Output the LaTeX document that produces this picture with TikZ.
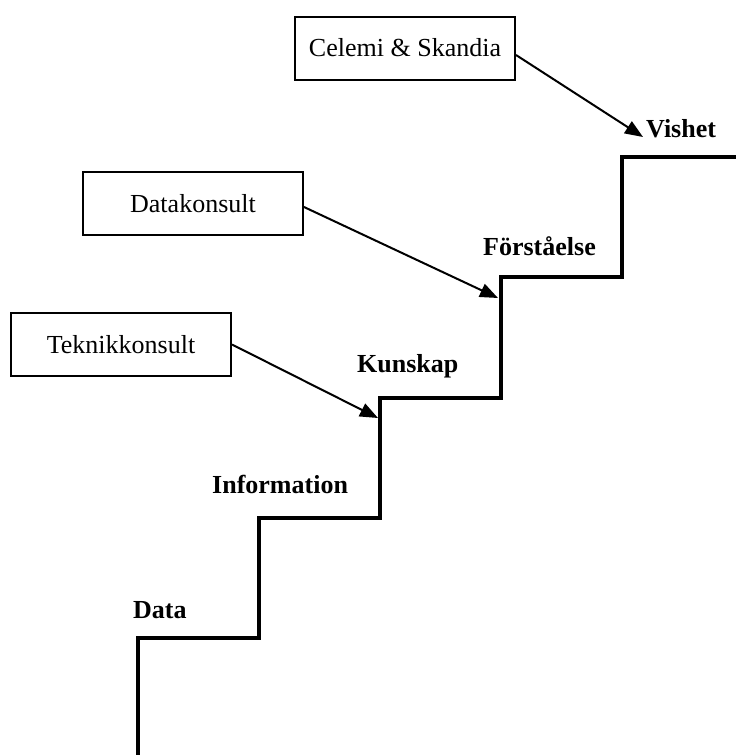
\documentclass[tikz,border=0pt]{standalone}
\usepackage{fontspec}
\setmainfont{Liberation Serif}
\usetikzlibrary{arrows.meta}
\begin{document}
\begin{tikzpicture}[x=1pt,y=-1pt,
  box/.style={draw,line width=2pt,minimum width=220pt,minimum height=63pt,inner sep=0pt,font=\fontsize{26}{31}\selectfont},
  lvl/.style={font=\bfseries\fontsize{26}{31}\selectfont,anchor=base west,inner sep=0pt},
  conn/.style={line width=2pt,-{Triangle[length=18pt,width=14pt]}},
  stair/.style={line width=4pt}]
\useasboundingbox (0,0) rectangle (736,755);
\draw[stair] (138,755) -- (138,638) -- (259,638) -- (259,518) -- (380,518) -- (380,398) -- (501,398) -- (501,277) -- (622,277) -- (622,157) -- (740,157);
\node[box] (cs) at (405,48) {Celemi \& Skandia};
\node[box] (dk) at (193,203.5) {Datakonsult};
\node[box] (tk) at (121,344.5) {Teknikkonsult};
\node[lvl] (data) at (133,618) {Data};
\node[lvl] (info) at (212,493) {Information};
\node[lvl] (kun) at (357,372) {Kunskap};
\node[lvl] (for) at (483,255) {Förståelse};
\node[lvl] (vis) at (646,137) {Vishet};
\coordinate (t1) at (378,418);
\coordinate (t2) at (498,298);
\coordinate (t3) at (643,137);
\draw[conn] ([yshift=-7pt]cs.east) -- (t3);
\draw[conn] ([yshift=-3.5pt]dk.east) -- (t2);
\draw[conn] (tk.east) -- (t1);
\end{tikzpicture}
\end{document}
